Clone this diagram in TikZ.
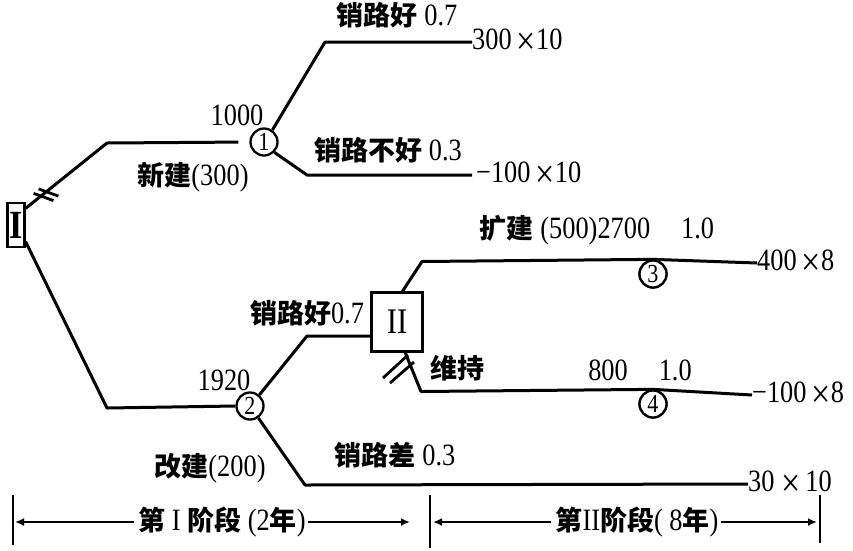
\documentclass[tikz,border=0pt]{standalone}
\usepackage{fontspec}
\setmainfont{Liberation Serif}[FakeStretch=0.85]
\newfontfamily\cjkf{Noto Sans CJK SC}
\newcommand\zhb[1]{{\cjkf\bfseries\fontsize{27}{30}\selectfont #1}}
\newcommand\bigx{{\fontsize{40}{30}\selectfont\raisebox{-5pt}{×}}}
\usetikzlibrary{arrows.meta}
\begin{document}
\begin{tikzpicture}[x=1pt,y=-1pt,
  br/.style={line width=3pt, line join=round},
  chance/.style={circle, draw, line width=2.3pt, minimum size=27pt, inner sep=0pt, fill=white,
    font=\fontsize{26}{26}\selectfont},
  dec/.style={draw, line width=2.2pt, inner sep=0pt, fill=white},
  txt/.style={font=\fontsize{31}{32}\selectfont, inner sep=0pt},
  pay/.style={txt, anchor=west},
  tick/.style={line width=2.8pt},
  bar/.style={line width=2.6pt},
  sarrow/.style={line width=2.6pt, -{Latex[length=9pt,width=8pt]}}
]
\useasboundingbox (0,0) rectangle (853,550);

% decision and chance nodes
\node[dec, minimum width=17pt, minimum height=44pt, font=\fontsize{40}{40}\selectfont\bfseries] (I) at (16,225) {I};
\node[dec, minimum width=51pt, minimum height=59pt, font=\fontsize{36}{36}\selectfont] (II) at (397,322) {II};
\node[chance] (c1) at (264,142) {1};
\node[chance] (c2) at (250,406) {2};
\node[chance] (c3) at (653,274) {3};
\node[chance] (c4) at (653,404) {4};

% bend points
\coordinate (b1) at (107,143);
\coordinate (b2) at (107,408);
\coordinate (b3) at (325,42);
\coordinate (b4) at (307,175);
\coordinate (b5) at (307,336);
\coordinate (b6) at (305,485);
\coordinate (b7) at (422,261.5);
\coordinate (b8) at (421,391.5);

% payoffs
\node[pay] (p1) at (472,42) {300\,\bigx10};
\node[pay] (p2) at (476,175) {−100\,\bigx10};
\node[pay] (p3) at (757,263) {400\,\bigx8};
\node[pay] (p4) at (752,395) {−100\,\bigx8};
\node[pay] (p5) at (748,484) {30 \bigx\,10};

% branches
\draw[br, shorten >=11pt] (I.60) -- (b1) -- (c1.west);
\draw[br] (I.-60) -- (b2) -- (c2.west);
\draw[br] (c1.55) -- (b3) -- (p1.west);
\draw[br, shorten >=4pt] (c1.-45) -- (b4) -- (p2.west);
\draw[br] (c2.50) -- (b5) -- (b5 -| II.west);
\draw[br] (c2.-55) -- (b6) -- (p5.west);
\draw[br] (II.80) -- (b7) -- (c3.north) -- (p3.west);
\draw[br] (II.-75) -- (b8) -- (c4.north) -- (p4.west);
\node[chance] at (c3) {3};
\node[chance] at (c4) {4};

% cut marks
\draw[tick] (33.6,193.4) -- (53.4,200.6);
\draw[tick] (38.6,188.9) -- (58.4,196.1);
\draw[tick] (383,378) -- (408,355);
\draw[tick] (390,383) -- (414,362);

% labels
\node[txt] (l1) at (397,15) {\zhb{销路好} 0.7};
\node[txt] (l2) at (237,115) {1000};
\node[txt] (l3) at (388,150) {\zhb{销路不好} 0.3};
\node[txt] (l4) at (193,177) {\zhb{新建}(300)};
\node[txt] (l5) at (597,230) {\zhb{扩建} (500)2700\hspace{1em}1.0};
\node[txt] (l6) at (457,368) {\zhb{维持}};
\node[txt] (l7) at (640,370) {800\hspace{1em}1.0};
\node[txt] (l8) at (307,313) {\zhb{销路好}0.7};
\node[txt] (l9) at (224,380) {1920};
\node[txt] (l10) at (210,468) {\zhb{改建}(200)};
\node[txt] (l11) at (395,455) {\zhb{销路差} 0.3};

% stage scale
\coordinate (t1a) at (13,495); \coordinate (t1b) at (13,545);
\coordinate (t2a) at (430,495); \coordinate (t2b) at (430,548);
\coordinate (t3a) at (820,495); \coordinate (t3b) at (820,543);
\coordinate (m1) at (13,522);
\coordinate (m2) at (430,522);
\coordinate (m3) at (820,522);
\draw[bar] (t1a) -- (t1b);
\draw[bar] (t2a) -- (t2b);
\draw[bar] (t3a) -- (t3b);
\node[txt] (s1) at (222,522) {\zhb{第} I \zhb{阶段} (2\zhb{年})};
\node[txt] (s2) at (637,522) {\zhb{第}II\zhb{阶段}( 8\zhb{年})};
\draw[sarrow, shorten <=4pt, shorten >=2pt] (s1.west) -- (m1);
\draw[sarrow, shorten <=2pt, shorten >=20pt] (s1.east) -- (m2);
\draw[sarrow, shorten <=4pt, shorten >=3pt] (s2.west) -- (m2);
\draw[sarrow, shorten <=2pt, shorten >=3pt] (s2.east) -- (m3);
\end{tikzpicture}
\end{document}
